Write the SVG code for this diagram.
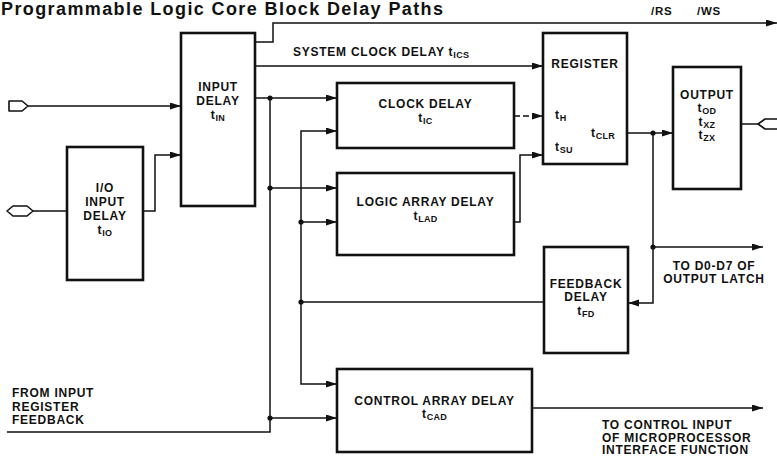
<svg xmlns="http://www.w3.org/2000/svg" width="777" height="461" viewBox="0 0 777 461">
<defs>
<style>
text{font-family:"Liberation Sans",Arial,Helvetica,sans-serif;font-weight:bold;fill:#111;}
.t{font-size:12px;letter-spacing:0.75px;}
.m{text-anchor:middle;}
.s{font-size:9px;letter-spacing:0.3px;}
.title{font-size:18px;}
.box{fill:#fff;stroke:#111;stroke-width:2.6;}
.w{fill:none;stroke:#111;stroke-width:1.5;}
.a{marker-end:url(#ah);}
.dot{fill:#111;}
.port{fill:#fff;stroke:#111;stroke-width:1.6;stroke-linejoin:round;}
</style>
<marker id="ah" markerUnits="userSpaceOnUse" markerWidth="12" markerHeight="8" refX="11" refY="3.5" orient="auto">
<path d="M0,0 L11,3.5 L0,7 Z" fill="#111"/>
</marker>
</defs>
<rect width="777" height="461" fill="#fff"/>
<text class="title" x="1" y="15" textLength="442" lengthAdjust="spacing">Programmable Logic Core Block Delay Paths</text>

<g id="connectors">
<path class="port" d="M9,101 H22 L28,106 L22,111 H9 Z"/>
<path class="w a" d="M28,106 H181"/>
<path class="port" d="M7,211 L13,206 H27 L33,211 L27,216 H13 Z"/>
<path class="w" d="M33,211 H67"/>
<path class="w a" d="M143,211 H155 V155 H181"/>
<path class="w a" d="M255,42 H273 V23 H777"/>
<path class="w a" d="M255,66 H543"/>
<path class="w a" d="M255,98 H337"/>
<path class="w" d="M270,98 V432 H7"/>
<path class="w a" d="M270,188 H337"/>
<path class="w a" d="M270,418 H337"/>
<path class="w" d="M544,302 H301"/>
<path class="w a" d="M301,302 V131 H337"/>
<path class="w a" d="M301,222 H337"/>
<path class="w a" d="M301,302 V384 H337"/>
<path class="w a" d="M514,116 H543" stroke-dasharray="6,3"/>
<path class="w a" d="M514,222 H520 V155 H543"/>
<path class="w a" d="M627,133 H673"/>
<path class="w a" d="M653,133 V303 H628"/>
<path class="w a" d="M653,247 H763"/>
<path class="w" d="M741,124 H758"/>
<path class="port" d="M758,124 L765,119 H785 L792,124 L785,129 H765 Z"/>
<path class="w a" d="M532,408 H763"/>
<circle class="dot" cx="270" cy="98" r="2.6"/>
<circle class="dot" cx="270" cy="188" r="2.6"/>
<circle class="dot" cx="270" cy="418" r="2.6"/>
<circle class="dot" cx="301" cy="222" r="2.6"/>
<circle class="dot" cx="301" cy="302" r="2.6"/>
<circle class="dot" cx="653" cy="133" r="2.6"/>
<circle class="dot" cx="653" cy="247" r="2.6"/>
</g>

<g id="labels">
<text class="t" x="651" y="15" style="font-size:11.5px">/RS</text>
<text class="t" x="697" y="15" style="font-size:11.5px">/WS</text>
<text class="t" x="293" y="56">SYSTEM CLOCK DELAY t<tspan class="s" dy="2">ICS</tspan></text>
<text class="t m" x="714" y="269.5">TO D0-D7 OF</text>
<text class="t m" x="714" y="282.5">OUTPUT LATCH</text>
<text class="t" x="12" y="396.5">FROM INPUT</text>
<text class="t" x="12" y="410.5">REGISTER</text>
<text class="t" x="12" y="424">FEEDBACK</text>
<text class="t" x="602" y="429">TO CONTROL INPUT</text>
<text class="t" x="602" y="441.5">OF MICROPROCESSOR</text>
<text class="t" x="602" y="454">INTERFACE FUNCTION</text>
</g>

<g id="input-delay">
<rect class="box" x="181" y="33" width="74" height="173"/>
<text class="t m" x="218" y="91">INPUT</text>
<text class="t m" x="218" y="105">DELAY</text>
<text class="t m" x="218" y="119">t<tspan class="s" dy="2">IN</tspan></text>
</g>

<g id="io-input-delay">
<rect class="box" x="67" y="147" width="76" height="133"/>
<text class="t m" x="105" y="192">I/O</text>
<text class="t m" x="105" y="206">INPUT</text>
<text class="t m" x="105" y="220">DELAY</text>
<text class="t m" x="105" y="233.5">t<tspan class="s" dy="2">IO</tspan></text>
</g>

<g id="clock-delay">
<rect class="box" x="337" y="83" width="177" height="65"/>
<text class="t m" x="425.5" y="108">CLOCK DELAY</text>
<text class="t m" x="425.5" y="122">t<tspan class="s" dy="2">IC</tspan></text>
</g>

<g id="logic-array-delay">
<rect class="box" x="337" y="173" width="177" height="82"/>
<text class="t m" x="425.5" y="206">LOGIC ARRAY DELAY</text>
<text class="t m" x="425.5" y="220">t<tspan class="s" dy="2">LAD</tspan></text>
</g>

<g id="register">
<rect class="box" x="543" y="33" width="84" height="131"/>
<text class="t m" x="585" y="68">REGISTER</text>
<text class="t" x="555" y="119">t<tspan class="s" dy="2">H</tspan></text>
<text class="t" x="591" y="137">t<tspan class="s" dy="2">CLR</tspan></text>
<text class="t" x="555" y="151">t<tspan class="s" dy="2">SU</tspan></text>
</g>

<g id="output">
<rect class="box" x="673" y="67" width="68" height="122"/>
<text class="t m" x="707" y="99">OUTPUT</text>
<text class="t m" x="707" y="112">t<tspan class="s" dy="2">OD</tspan></text>
<text class="t m" x="707" y="125.5">t<tspan class="s" dy="2">XZ</tspan></text>
<text class="t m" x="707" y="139">t<tspan class="s" dy="2">ZX</tspan></text>
</g>

<g id="feedback-delay">
<rect class="box" x="544" y="247" width="84" height="106"/>
<text class="t m" x="586" y="287.5">FEEDBACK</text>
<text class="t m" x="586" y="301">DELAY</text>
<text class="t m" x="586" y="314.5">t<tspan class="s" dy="2">FD</tspan></text>
</g>

<g id="control-array-delay">
<rect class="box" x="337" y="369" width="195" height="83"/>
<text class="t m" x="434.5" y="404.5">CONTROL ARRAY DELAY</text>
<text class="t m" x="434.5" y="418">t<tspan class="s" dy="2">CAD</tspan></text>
</g>
</svg>
